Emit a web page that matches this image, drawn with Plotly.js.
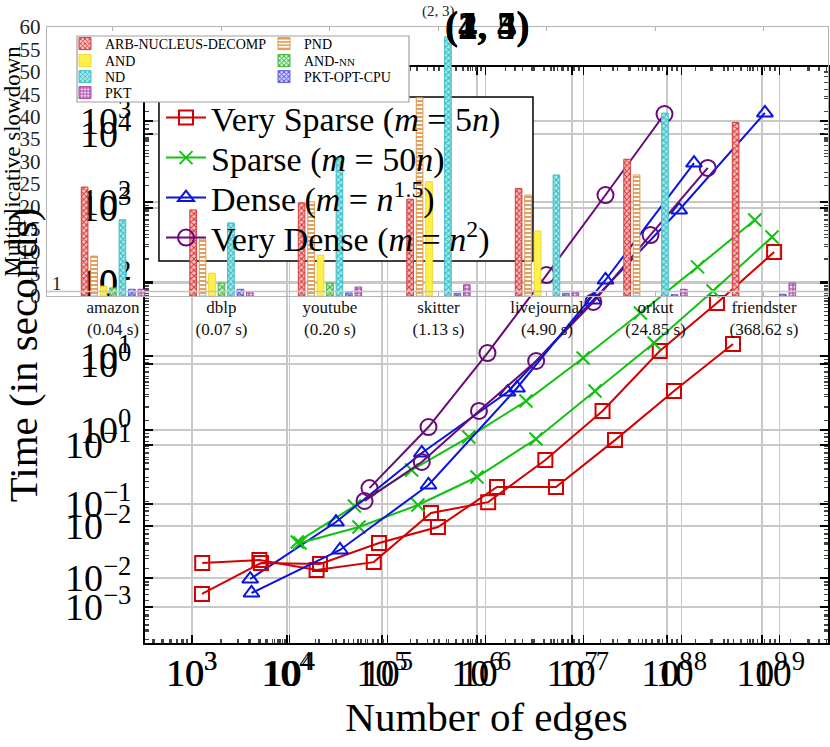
<!DOCTYPE html>
<html>
<head>
<meta charset="utf-8">
<script src="https://cdn.plot.ly/plotly-3.0.1.min.js"></script>
<style>
html,body{margin:0;padding:0;background:#fff;}
#chart{width:830px;height:747px;}
</style>
</head>
<body>
<div id="chart"></div>
<script>
// ---------- line charts (two overlaid runs) ----------
const edgesVerySparse = [1280, 5120, 20480, 81920, 327680, 1310720, 5242880, 20971520, 83886080, 335544320, 1342177280];
const edgesSparse     = [12800, 51200, 204800, 819200, 3276800, 13107200, 52428800, 209715200, 838860800];
const edgesDense      = [4096, 32768, 262144, 2097152, 16777216, 134217728, 1073741824];
const edgesVeryDense  = [65536, 262144, 1048576, 4194304, 16777216, 67108864, 268435456];

// run A (first set of axes)
const timeAVerySparse = [0.0160, 0.0175, 0.0128, 0.0164, 0.0756, 0.106, 0.393, 1.81, 11.7, 52.0, 254];
const timeASparse     = [0.0306, 0.094, 0.288, 0.804, 2.46, 9.40, 38.1, 160, 688];
const timeADense      = [0.00969, 0.0571, 0.489, 3.26, 57.1, 940, 19230];
const timeAVeryDense  = [0.110, 0.370, 1.81, 8.56, 53.7, 431, 3473];

// run B (second set of axes)
const edgesBVerySparse = [1280, 5120, 20480, 81920, 327680, 1310720, 5242880, 20971520, 83886080, 335544320];
const edgesBDense      = [4096, 32768, 262144, 2097152, 16777216, 134217728];
const edgesBVeryDense  = [65536, 262144, 1048576, 4194304, 16777216, 67108864];
const timeBVerySparse = [0.00145, 0.00349, 0.00340, 0.00617, 0.00972, 0.0303, 0.0303, 0.115, 0.464, 1.77];
const timeBSparse     = [0.00617, 0.00972, 0.0182, 0.0403, 0.1186, 0.464, 1.82, 7.96, 37.0];
const timeBDense      = [0.00149, 0.00506, 0.0321, 0.506, 10.9, 303];
const timeBVeryDense  = [0.0294, 0.1668, 1.367, 12.55, 122, 1220];

const seriesNames = [
  'Very Sparse (<i>m</i> = 5<i>n</i>)',
  'Sparse (<i>m</i> = 50<i>n</i>)',
  'Dense (<i>m</i> = <i>n</i><sup>1.5</sup>)',
  'Very Dense (<i>m</i> = <i>n</i><sup>2</sup>)'
];

// tick exponents
const xTickExpA = [3, 4, 5, 6, 7, 8, 9];
const xTickExpB = [3, 4, 5, 6, 7, 8, 9];
const yTickExp1 = [-2, -1, 0, 1, 2, 3, 4];
const yTickExp2 = [-3, -2, -1, 0, 1, 2, 3];

// ---------- bar chart ----------
const datasets  = ['amazon', 'dblp', 'youtube', 'skitter', 'livejournal', 'orkut', 'friendster'];
const baseTimes = ['0.04 s', '0.07 s', '0.20 s', '1.13 s', '4.90 s', '24.85 s', '368.62 s'];
const barNames  = ['ARB-NUCLEUS-DECOMP', 'PND', 'AND', 'AND-<span style="font-size:11px">NN</span>', 'ND', 'PKT-OPT-CPU', 'PKT'];
const slowArb   = [24.3, 19.2, 20.8, 21.6, 24.0, 30.5, 38.7];
const slowPnd   = [8.9, 12.7, 21.0, 44.2, 22.5, 27.0, null];
const slowAnd   = [2.2, 5.1, 9.1, 25.5, 14.5, null, null];
const slowAndNn = [1.8, 2.9, 2.9, null, null, null, null];
const slowNd    = [17.0, 16.3, 31.0, 57.8, 27.0, 40.8, null];
const slowPktOpt= [1.5, 1.5, 0.7, 0.6, 0.6, 0.3, 0.4];
const slowPkt   = [1.5, 1.0, 2.0, 2.5, 1.0, 1.5, 2.9];
const slowdownRef = [1];

// ---------- helpers ----------
const W = 830, H = 747;
const px = v => v / W;
const py = v => 1 - v / H;
const FONT = 'Liberation Serif, Times New Roman, serif';
const expText = e => '10<sup>' + (e < 0 ? '\u2212' + (-e) : e) + '</sup>';

const lineStyles = [
  {color: '#d40000', symbol: 'square-open', size: 14},
  {color: '#12c212', symbol: 'x-thin-open', size: 13},
  {color: '#0a14e0', symbol: 'triangle-up-open', size: 14},
  {color: '#6a0a78', symbol: 'circle-open', size: 16}
];
const lineLegends = ['legend', 'legend6', 'legend7', 'legend8'];

function lineTrace(x, y, idx, xa, ya, show) {
  const s = lineStyles[idx];
  return {
    type: 'scatter', mode: 'lines+markers', x: x, y: y,
    xaxis: xa, yaxis: ya, name: seriesNames[idx], showlegend: show, legend: lineLegends[idx],
    line: {color: s.color, width: 2},
    marker: {symbol: s.symbol, size: s.size, color: s.color, line: {color: s.color, width: 2}}
  };
}

const traces = [
  lineTrace(edgesVerySparse, timeAVerySparse, 0, 'x', 'y', true),
  lineTrace(edgesSparse, timeASparse, 1, 'x', 'y', true),
  lineTrace(edgesDense, timeADense, 2, 'x', 'y', true),
  lineTrace(edgesVeryDense, timeAVeryDense, 3, 'x', 'y', true),
  lineTrace(edgesBVerySparse, timeBVerySparse, 0, 'x2', 'y2', false),
  lineTrace(edgesSparse, timeBSparse, 1, 'x2', 'y2', false),
  lineTrace(edgesBDense, timeBDense, 2, 'x2', 'y2', false),
  lineTrace(edgesBVeryDense, timeBVeryDense, 3, 'x2', 'y2', false)
];

const catLabels = datasets.map((d, i) => d + '<br>(' + baseTimes[i] + ')');
// bar legend rows: (ARB, PND) (AND, AND-NN) (ND, PKT-OPT-CPU) (PKT)
const barStyles = [
  {bg: '#f6c4c4', fg: '#d83030', shape: 'x', line: '#d83a3a', legend: 'legend2'},
  {bg: '#ffffff', fg: '#e0964a', shape: '-', line: '#e0964a', legend: 'legend2'},
  {bg: '#fff04a', fg: '', shape: '', line: '#f0d830', legend: 'legend3'},
  {bg: '#c6f2c6', fg: '#30b030', shape: 'x', line: '#40b840', legend: 'legend3'},
  {bg: '#a8eaea', fg: '#2cb8c0', shape: 'x', line: '#40c0c8', legend: 'legend4'},
  {bg: '#c8c8f8', fg: '#4a4ae0', shape: 'x', line: '#6060e0', legend: 'legend4'},
  {bg: '#f2d2f2', fg: '#a040a0', shape: '+', line: '#a848a8', legend: 'legend5'}
];
const barValues = [slowArb, slowPnd, slowAnd, slowAndNn, slowNd, slowPktOpt, slowPkt];
barValues.forEach((vals, i) => {
  const s = barStyles[i];
  const marker = {color: s.bg, line: {color: s.line, width: 1}};
  if (s.shape) marker.pattern = {shape: s.shape, fgcolor: s.fg, bgcolor: s.bg, size: 4, solidity: 0.45};
  traces.push({
    type: 'bar', x: catLabels, y: vals, name: barNames[i],
    xaxis: 'x3', yaxis: 'y3', legend: s.legend, marker: marker
  });
});

const lineDomX = [px(145), px(828)];
const lineDomY = [py(643), py(67)];

function logAxis(exps, range, extra) {
  return Object.assign({
    type: 'log', range: range, domain: lineDomX,
    tickmode: 'array', tickvals: exps.map(e => Math.pow(10, e)), ticktext: exps.map(expText),
    ticks: 'inside', ticklen: 8, tickwidth: 1.5, tickcolor: '#000',
    minor: {dtick: 'D1', ticks: 'inside', ticklen: 4, tickcolor: '#444', showgrid: false},
    showline: true, linecolor: '#000', linewidth: 2, mirror: 'ticks',
    showgrid: true, gridcolor: '#c8c8c8', gridwidth: 1.5, zeroline: false,
    tickfont: {family: FONT, size: 38, color: '#000'}
  }, extra);
}

function rowLegend(xPx, yPx, size, extra) {
  return Object.assign({
    x: px(xPx), y: py(yPx), xanchor: 'left', yanchor: 'middle', orientation: 'h',
    bgcolor: 'rgba(0,0,0,0)', borderwidth: 0,
    font: {family: FONT, size: size, color: '#000'}
  }, extra || {});
}

// box of the line legend, in bar-axis units so that it sits above the line chart and below the bars
const barPxPerUnit = (296 - 27) / 60;
const catPx = 108.5;

const layout = {
  width: W, height: H,
  margin: {l: 0, r: 0, t: 0, b: 0},
  paper_bgcolor: '#fff', plot_bgcolor: 'rgba(0,0,0,0)',
  font: {family: FONT, color: '#000'},
  barmode: 'group', bargap: 0.39, bargroupgap: 0.3,
  xaxis: logAxis(xTickExpA, [2.505, 9.695], {
    anchor: 'y', ticklabelstandoff: -5,
    title: {text: 'Number of edges', font: {family: FONT, size: 41}, standoff: 6}
  }),
  xaxis2: logAxis(xTickExpB, [2.526, 9.495], {anchor: 'y2', overlaying: 'x', ticklabelstandoff: -5}),
  yaxis: logAxis(yTickExp1, [-2.878, 4.905], {
    domain: lineDomY, anchor: 'x', ticklabelstandoff: 4,
    title: {text: 'Time (in seconds)', font: {family: FONT, size: 41}, standoff: 20}
  }),
  yaxis2: logAxis(yTickExp2, [-3.444, 3.667], {domain: lineDomY, anchor: 'x2', overlaying: 'y', ticklabelstandoff: 4}),
  xaxis3: {
    type: 'category', domain: [px(47), px(828)], range: [-0.608, 6.59], anchor: 'y3',
    showline: true, linecolor: '#b4b4b4', linewidth: 1.2, mirror: 'ticks',
    ticks: 'inside', ticklen: 4, tickcolor: '#b4b4b4', showgrid: false, ticklabelstandoff: -5,
    tickfont: {family: FONT, size: 17, color: '#111'}
  },
  yaxis3: {
    domain: [py(296), py(27)], range: [0, 60], anchor: 'x3', dtick: 5,
    showline: true, linecolor: '#b4b4b4', linewidth: 1.2, mirror: true,
    ticks: '', showgrid: false, zeroline: false, ticklabelstandoff: 1,
    tickfont: {family: FONT, size: 21, color: '#222'},
    title: {text: 'Multiplicative slowdown', font: {family: FONT, size: 23}, standoff: 2}
  },
  legend:  rowLegend(161, 118, 34, {itemwidth: 40}),
  legend6: rowLegend(161, 158, 34, {itemwidth: 40}),
  legend7: rowLegend(161, 198, 34, {itemwidth: 40}),
  legend8: rowLegend(161, 238, 34, {itemwidth: 40}),
  legend2: rowLegend(65, 44, 14, {entrywidth: 154, entrywidthmode: 'pixels'}),
  legend3: rowLegend(65, 61, 14, {entrywidth: 154, entrywidthmode: 'pixels'}),
  legend4: rowLegend(65, 77, 14, {entrywidth: 154, entrywidthmode: 'pixels'}),
  legend5: rowLegend(65, 93, 14, {entrywidth: 154, entrywidthmode: 'pixels'}),
  shapes: [
    // line-chart legend box
    {type: 'rect', xref: 'x3', yref: 'y3', layer: 'below',
     x0: (159 - 113) / catPx, x1: (533 - 113) / catPx,
     y0: (296 - 261) / barPxPerUnit, y1: (296 - 97) / barPxPerUnit,
     fillcolor: '#fff', line: {color: '#000', width: 1.5}},
    // reference line at slowdown 1
    {type: 'line', xref: 'paper', yref: 'y3', x0: px(47), x1: px(828), y0: slowdownRef[0], y1: slowdownRef[0],
     line: {color: '#c4c4c4', width: 1.5}},
    // bar legend box
    {type: 'rect', xref: 'paper', yref: 'paper', layer: 'above',
     x0: px(77), x1: px(409), y0: py(102), y1: py(36),
     fillcolor: '#fff', line: {color: '#a0a0a0', width: 1.2}}
  ],
  annotations: [
    {xref: 'paper', yref: 'y3', x: px(50), y: slowdownRef[0], xanchor: 'left', yanchor: 'bottom', yshift: -4,
     text: '1', showarrow: false, font: {family: FONT, size: 19, color: '#222'}},
    {xref: 'paper', yref: 'paper', x: px(438), y: py(12), xanchor: 'center', yanchor: 'middle',
     text: '(2, 3)', showarrow: false, font: {family: FONT, size: 15, color: '#222'}},
    {xref: 'paper', yref: 'paper', x: px(487), y: py(26), xanchor: 'center', yanchor: 'middle',
     text: '<b>(2, 4)</b>', showarrow: false, font: {family: FONT, size: 39, color: '#000'}},
    {xref: 'paper', yref: 'paper', x: px(487), y: py(26), xanchor: 'center', yanchor: 'middle',
     text: '<b>(1, 3)</b>', showarrow: false, font: {family: FONT, size: 39, color: '#000'}},
    {xref: 'paper', yref: 'paper', x: px(487), y: py(26), xanchor: 'center', yanchor: 'middle',
     text: '<b>(4, 5)</b>', showarrow: false, font: {family: FONT, size: 39, color: '#000'}}
  ]
};

Plotly.newPlot('chart', traces, layout, {displayModeBar: false, staticPlot: true});
</script>
</body>
</html>
